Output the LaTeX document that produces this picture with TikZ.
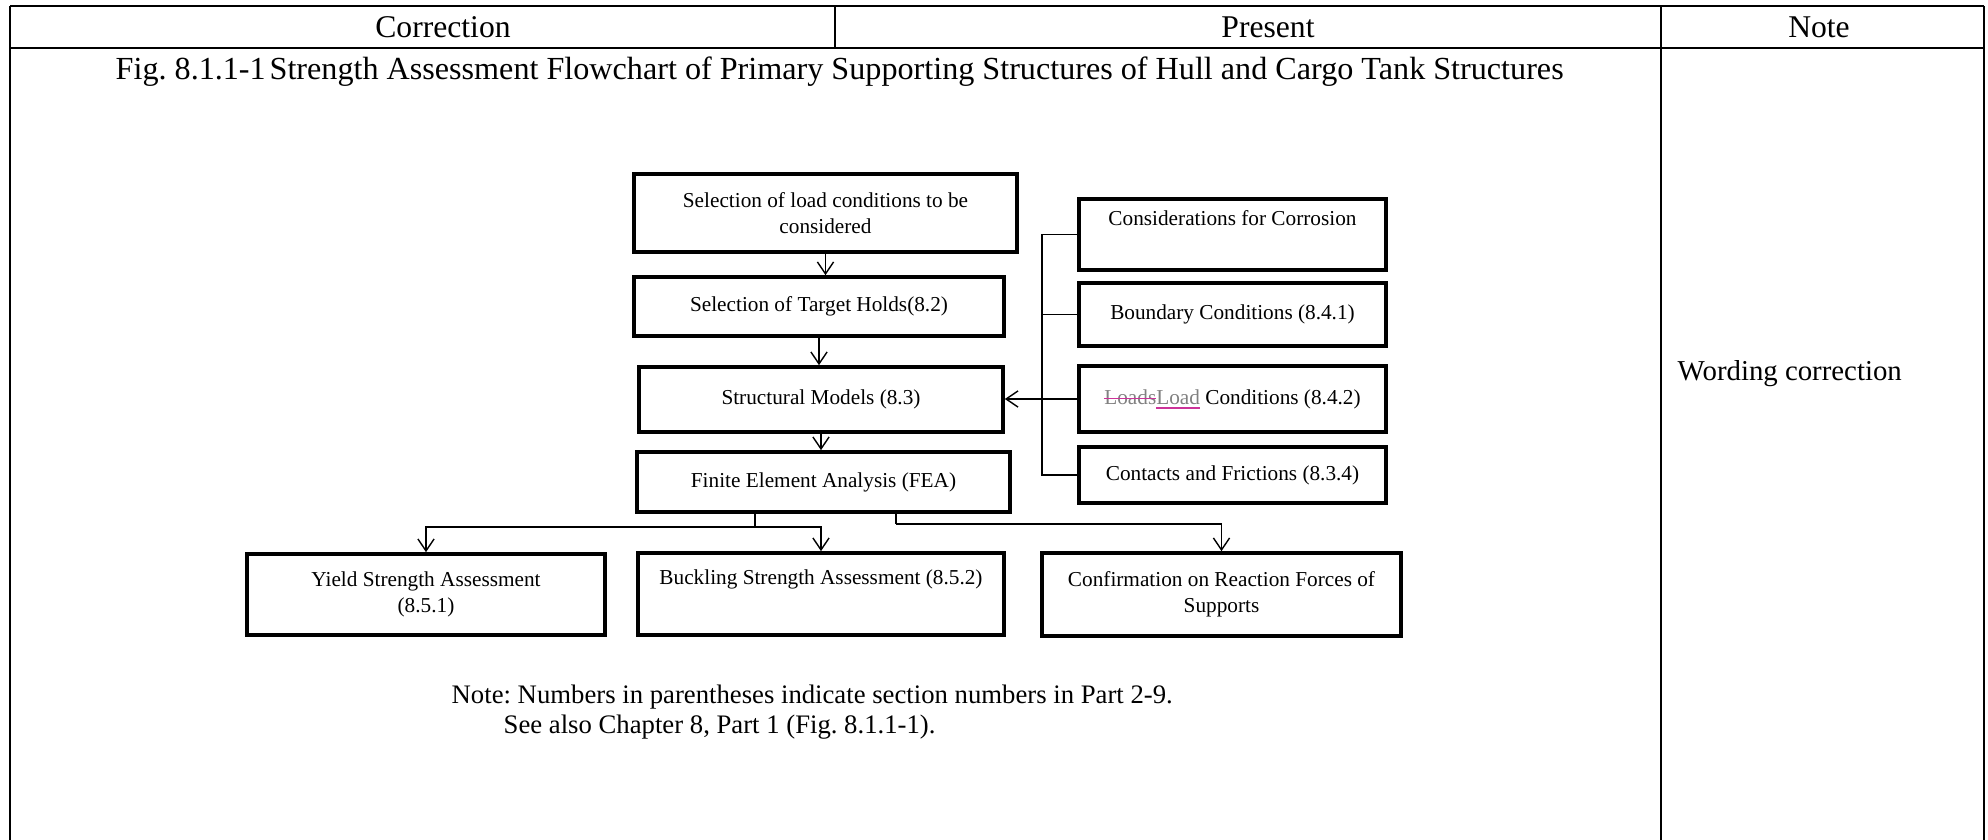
\documentclass[tikz,border=0pt]{standalone}
\usepackage{fontspec}
\setmainfont{Liberation Serif}
\usetikzlibrary{calc,arrows.meta}
\frenchspacing

\definecolor{revgray}{RGB}{128,128,128}
\definecolor{revpink}{RGB}{204,51,153}
\newsavebox\revbox
\newcommand\delmark[1]{\sbox\revbox{#1}\rlap{\usebox\revbox}\textcolor{revpink}{\rule[0.55ex]{\wd\revbox}{0.35pt}}}
\newcommand\insmark[1]{\sbox\revbox{#1}\rlap{\usebox\revbox}\textcolor{revpink}{\rule[-0.45ex]{\wd\revbox}{0.35pt}}}

\begin{document}
\begin{tikzpicture}[scale=1.0,
  box/.style={draw, line width=1.05pt, inner sep=0pt, align=center,
    font=\fontsize{6.05}{7.4}\selectfont},
  txt/.style={inner sep=0pt},
  link/.style={line width=0.4pt},
  >={Straight Barb[length=3.4pt,width=4.6pt]}]
  \useasboundingbox (0,0) rectangle (19.88,-8.40);
  % table frame
  \draw[line width=0.7pt] (0.10,-0.06) -- (19.84,-0.06);
  \draw[line width=0.7pt] (0.10,-0.48) -- (19.84,-0.48);
  \draw[line width=0.45pt] (0.10,-0.06) -- (0.10,-8.40);
  \draw[line width=0.45pt] (8.35,-0.06) -- (8.35,-0.48);
  \draw[line width=0.45pt] (16.61,-0.06) -- (16.61,-8.40);
  \draw[line width=0.45pt] (19.84,-0.06) -- (19.84,-8.40);
  \node[txt, font=\fontsize{9}{11}\selectfont] (hcorr) at (4.43,-0.27) {Correction};
  \node[txt, font=\fontsize{9}{11}\selectfont] (hpres) at (12.68,-0.27) {Present};
  \node[txt, font=\fontsize{9}{11}\selectfont] (hnote) at (18.19,-0.27) {Note};
  \node[txt, anchor=west, font=\fontsize{9.15}{11}\selectfont] (title) at (1.15,-0.72)
    {Fig. 8.1.1-1\hspace{0.12em}Strength Assessment Flowchart of Primary Supporting Structures of Hull and Cargo Tank Structures};
  \node[txt, anchor=west, font=\fontsize{8.2}{10}\selectfont] (remark) at (16.77,-3.74) {Wording correction};

  % main column
  \node[box, minimum width=3.83cm, minimum height=0.78cm] (loadsel) at (8.255,-2.13)
    {Selection of load conditions to be\\considered};
  \node[box, minimum width=3.70cm, minimum height=0.59cm] (holds) at (8.19,-3.065)
    {Selection of Target Holds(8.2)};
  \node[box, minimum width=3.64cm, minimum height=0.65cm] (models) at (8.21,-3.995)
    {Structural Models (8.3)};
  \node[box, minimum width=3.73cm, minimum height=0.60cm] (fea) at (8.235,-4.82)
    {Finite Element Analysis (FEA)};
  % side inputs
  \node[box, minimum width=3.07cm, minimum height=0.71cm] (corr) at (12.325,-2.345)
    {Considerations for Corrosion\\\strut};
  \node[box, minimum width=3.07cm, minimum height=0.63cm] (bound) at (12.325,-3.145)
    {Boundary Conditions (8.4.1)};
  \node[box, minimum width=3.07cm, minimum height=0.66cm] (loadc) at (12.325,-3.99)
    {\delmark{\textcolor{revgray}{Loads}}\insmark{\textcolor{revgray}{Load}} Conditions (8.4.2)};
  \node[box, minimum width=3.07cm, minimum height=0.56cm] (fric) at (12.325,-4.75)
    {Contacts and Frictions (8.3.4)};
  % results
  \node[box, minimum width=3.58cm, minimum height=0.81cm] (yield) at (4.26,-5.945)
    {Yield Strength Assessment\\(8.5.1)};
  \node[box, minimum width=3.66cm, minimum height=0.82cm] (buck) at (8.21,-5.94)
    {Buckling Strength Assessment (8.5.2)\\\strut};
  \node[box, minimum width=3.59cm, minimum height=0.83cm] (react) at (12.215,-5.945)
    {Confirmation on Reaction Forces of\\Supports};

  \coordinate (bus) at (10.42,-2.28);
  \coordinate (fork1) at (7.55,-5.27);
  \coordinate (fork2) at (8.96,-5.24);

  \draw[link,->] (loadsel.south) -- (loadsel.south |- holds.north);
  \draw[link,->] (holds.south) -- (holds.south |- models.north);
  \draw[link,->] (models.south) -- (models.south |- fea.north);

  \draw[link] (corr.west) -- (corr.west -| bus) -- (fric.west -| bus) -- (fric.west);
  \draw[link] (bound.west) -- (bound.west -| bus);
  \draw[link,->] (loadc.west) -- (loadc.west -| models.east);

  \draw[link] (fork1 |- fea.south) -- (fork1);
  \draw[link,->] (fork1) -| (yield.north);
  \draw[link,->] (fork1) -| (buck.north);
  \draw[link] (fork2 |- fea.south) -- (fork2);
  \draw[link,->] (fork2) -| (react.north);

  \node[txt, anchor=west, font=\fontsize{7.6}{9}\selectfont] (note1) at (4.51,-6.97)
    {Note: Numbers in parentheses indicate section numbers in Part 2-9.};
  \node[txt, anchor=west, font=\fontsize{7.6}{9}\selectfont] (note2) at (5.03,-7.27)
    {See also Chapter 8, Part 1 (Fig. 8.1.1-1).};
\end{tikzpicture}
\end{document}
